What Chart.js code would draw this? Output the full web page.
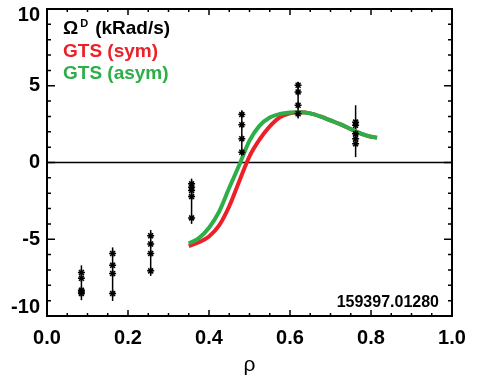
<!DOCTYPE html>
<html>
<head>
<meta charset="utf-8">
<script src="https://cdn.jsdelivr.net/npm/chart.js@4"></script>
<style>
  html, body { margin: 0; padding: 0; background: #fff; }
</style>
</head>
<body>
<canvas id="c" width="490" height="378"></canvas>
<script>
// measured profiles (rho, kRad/s)
const groupRho = [0.085, 0.162, 0.256, 0.357, 0.481, 0.620, 0.762]
const groupValues = [
  [-7.17, -7.54, -8.32, -8.43, -8.54],
  [-5.93, -6.69, -7.23, -8.54],
  [-4.77, -5.31, -5.93, -7.06],
  [-1.39, -1.61, -1.83, -2.22, -3.61],
  [3.12, 2.46, 1.55, 0.67],
  [5.03, 4.60, 3.73, 3.18],
  [2.63, 2.42, 1.88, 1.55, 1.22]
]
const errLow = [-8.97, -9.02, -7.39, -4.00, 0.13, 2.86, 0.35]
const errHigh = [-6.70, -5.53, -4.40, -1.05, 3.40, 5.25, 3.73]

// GTS model curves
const curveRho = [0.35, 0.375, 0.40, 0.425, 0.45, 0.475, 0.50, 0.525, 0.55, 0.575, 0.60, 0.625, 0.65, 0.675, 0.70, 0.725, 0.75, 0.775, 0.80, 0.815]
const gtsSym = [-5.45, -5.20, -4.82, -4.10, -2.85, -1.20, 0.40, 1.50, 2.35, 2.95, 3.20, 3.27, 3.20, 3.00, 2.74, 2.48, 2.18, 1.88, 1.68, 1.62]
const gtsAsym = [-5.28, -4.93, -4.25, -3.20, -1.65, -0.15, 1.42, 2.40, 2.93, 3.16, 3.25, 3.27, 3.20, 3.00, 2.74, 2.48, 2.18, 1.88, 1.68, 1.62]

const xTicks = [0, 0.2, 0.4, 0.6, 0.8, 1.0]
const yTicks = [-10, -5, 0, 5, 10]
const shotLabel = '159397.01280'

const RED = 'rgb(236, 32, 40)'
const GREEN = 'rgb(44, 174, 72)'
const FONT = '"Liberation Sans", Arial, sans-serif'

const points = []
groupRho.forEach((r, i) => {
  groupValues[i].forEach(v => points.push({ x: r, y: v }))
})
const toXY = (xs, ys) => xs.map((x, i) => ({ x: x, y: ys[i] }))

const frame = {
  id: 'frame',
  beforeDatasetsDraw(chart) {
    const ctx = chart.ctx
    const xs = chart.scales.x, ys = chart.scales.y
    ctx.save()
    ctx.strokeStyle = '#000'
    ctx.lineWidth = 1.5
    groupRho.forEach((r, i) => {
      const px = xs.getPixelForValue(r)
      ctx.beginPath()
      ctx.moveTo(px, ys.getPixelForValue(errLow[i]))
      ctx.lineTo(px, ys.getPixelForValue(errHigh[i]))
      ctx.stroke()
    })
    ctx.restore()
  },
  afterDatasetsDraw(chart) {
    const ctx = chart.ctx
    const a = chart.chartArea
    const xs = chart.scales.x, ys = chart.scales.y
    ctx.save()
    ctx.strokeStyle = '#000'
    ctx.lineWidth = 2
    ctx.strokeRect(a.left, a.top, a.right - a.left, a.bottom - a.top)

    // inward ticks on all four sides
    ctx.lineWidth = 1.5
    ctx.beginPath()
    for (let i = 0; i <= 20; i++) {
      const v = i * 0.05
      const px = xs.getPixelForValue(v)
      const len = i % 4 === 0 ? 6 : 3
      ctx.moveTo(px, a.bottom); ctx.lineTo(px, a.bottom - len)
      ctx.moveTo(px, a.top); ctx.lineTo(px, a.top + len)
    }
    for (let v = -10; v <= 10; v++) {
      const py = ys.getPixelForValue(v)
      const len = v % 5 === 0 ? 8 : 4
      ctx.moveTo(a.left, py); ctx.lineTo(a.left + len, py)
      ctx.moveTo(a.right, py); ctx.lineTo(a.right - len, py)
    }
    ctx.stroke()

    // legend text
    ctx.textBaseline = 'alphabetic'
    ctx.textAlign = 'left'
    ctx.font = 'bold 19px ' + FONT
    ctx.fillStyle = '#000'
    let x = 63
    ctx.fillText('\u03A9', x, 34)
    x += ctx.measureText('\u03A9').width + 2
    ctx.font = 'bold 11px ' + FONT
    ctx.fillText('D', x, 27)
    x += ctx.measureText('D').width + 7
    ctx.font = 'bold 19px ' + FONT
    ctx.fillText('(kRad/s)', x, 34)
    ctx.fillStyle = RED
    ctx.fillText('GTS (sym)', 63, 56.5)
    ctx.fillStyle = GREEN
    ctx.fillText('GTS (asym)', 63, 78.5)

    ctx.fillStyle = '#000'
    ctx.textAlign = 'right'
    ctx.textBaseline = 'middle'
    ctx.font = 'bold 16px ' + FONT
    ctx.fillText(shotLabel, 439, 303)
    ctx.restore()
  }
}

new Chart(document.getElementById('c'), {
  type: 'scatter',
  data: {
    datasets: [
      {
        label: 'data',
        data: points,
        showLine: false,
        pointStyle: 'star',
        pointRadius: 3.5,
        pointBorderWidth: 1.5,
        pointBorderColor: '#000',
        pointBackgroundColor: '#000',
        order: 0
      },
      {
        label: 'GTS (asym)',
        data: toXY(curveRho, gtsAsym),
        showLine: true,
        borderColor: GREEN,
        borderWidth: 4,
        pointRadius: 0,
        cubicInterpolationMode: 'monotone',
        order: 1
      },
      {
        label: 'GTS (sym)',
        data: toXY(curveRho, gtsSym),
        showLine: true,
        borderColor: RED,
        borderWidth: 4,
        pointRadius: 0,
        cubicInterpolationMode: 'monotone',
        order: 2
      },
      {
        label: 'zero',
        data: [{ x: 0, y: 0 }, { x: 1, y: 0 }],
        showLine: true,
        borderColor: '#000',
        borderWidth: 1.5,
        pointRadius: 0,
        order: 3
      }
    ]
  },
  options: {
    responsive: false,
    animation: false,
    layout: { padding: { top: 9, right: 38, left: 0, bottom: 0 } },
    plugins: {
      legend: { display: false },
      tooltip: { enabled: false }
    },
    scales: {
      x: {
        type: 'linear',
        min: 0,
        max: 1,
        afterBuildTicks: (s) => { s.ticks = xTicks.map(v => ({ value: v })) },
        afterFit: (s) => { s.height = 62; s.paddingLeft = 0; s.paddingRight = 0 },
        grid: { display: false, drawTicks: false },
        border: { display: false },
        ticks: {
          padding: 10,
          color: '#000',
          font: { family: FONT, size: 20, weight: 'bold' },
          callback: (v) => v.toFixed(1),
          maxRotation: 0
        },
        title: {
          display: true,
          text: '\u03C1',
          color: '#000',
          font: { family: FONT, size: 21 },
          padding: { top: 6, bottom: 0 }
        }
      },
      y: {
        type: 'linear',
        min: -10,
        max: 10,
        afterBuildTicks: (s) => { s.ticks = yTicks.map(v => ({ value: v })) },
        afterFit: (s) => { s.width = 47; s.paddingTop = 0; s.paddingBottom = 0 },
        grid: { display: false, drawTicks: false },
        border: { display: false },
        ticks: {
          padding: 7,
          autoSkip: false,
          color: '#000',
          // end labels sit inside the axis range, as in the original plot
          callback: (v) => v === 10 ? ['', '10'] : v === -10 ? ['-10', ''] : String(v),
          font: (c) => {
            const v = c.tick ? c.tick.value : 0
            const lh = v === 10 ? '12px' : v === -10 ? '18px' : '24px'
            return { family: FONT, size: 20, weight: 'bold', lineHeight: lh }
          }
        }
      }
    }
  },
  plugins: [frame]
})
</script>
</body>
</html>
